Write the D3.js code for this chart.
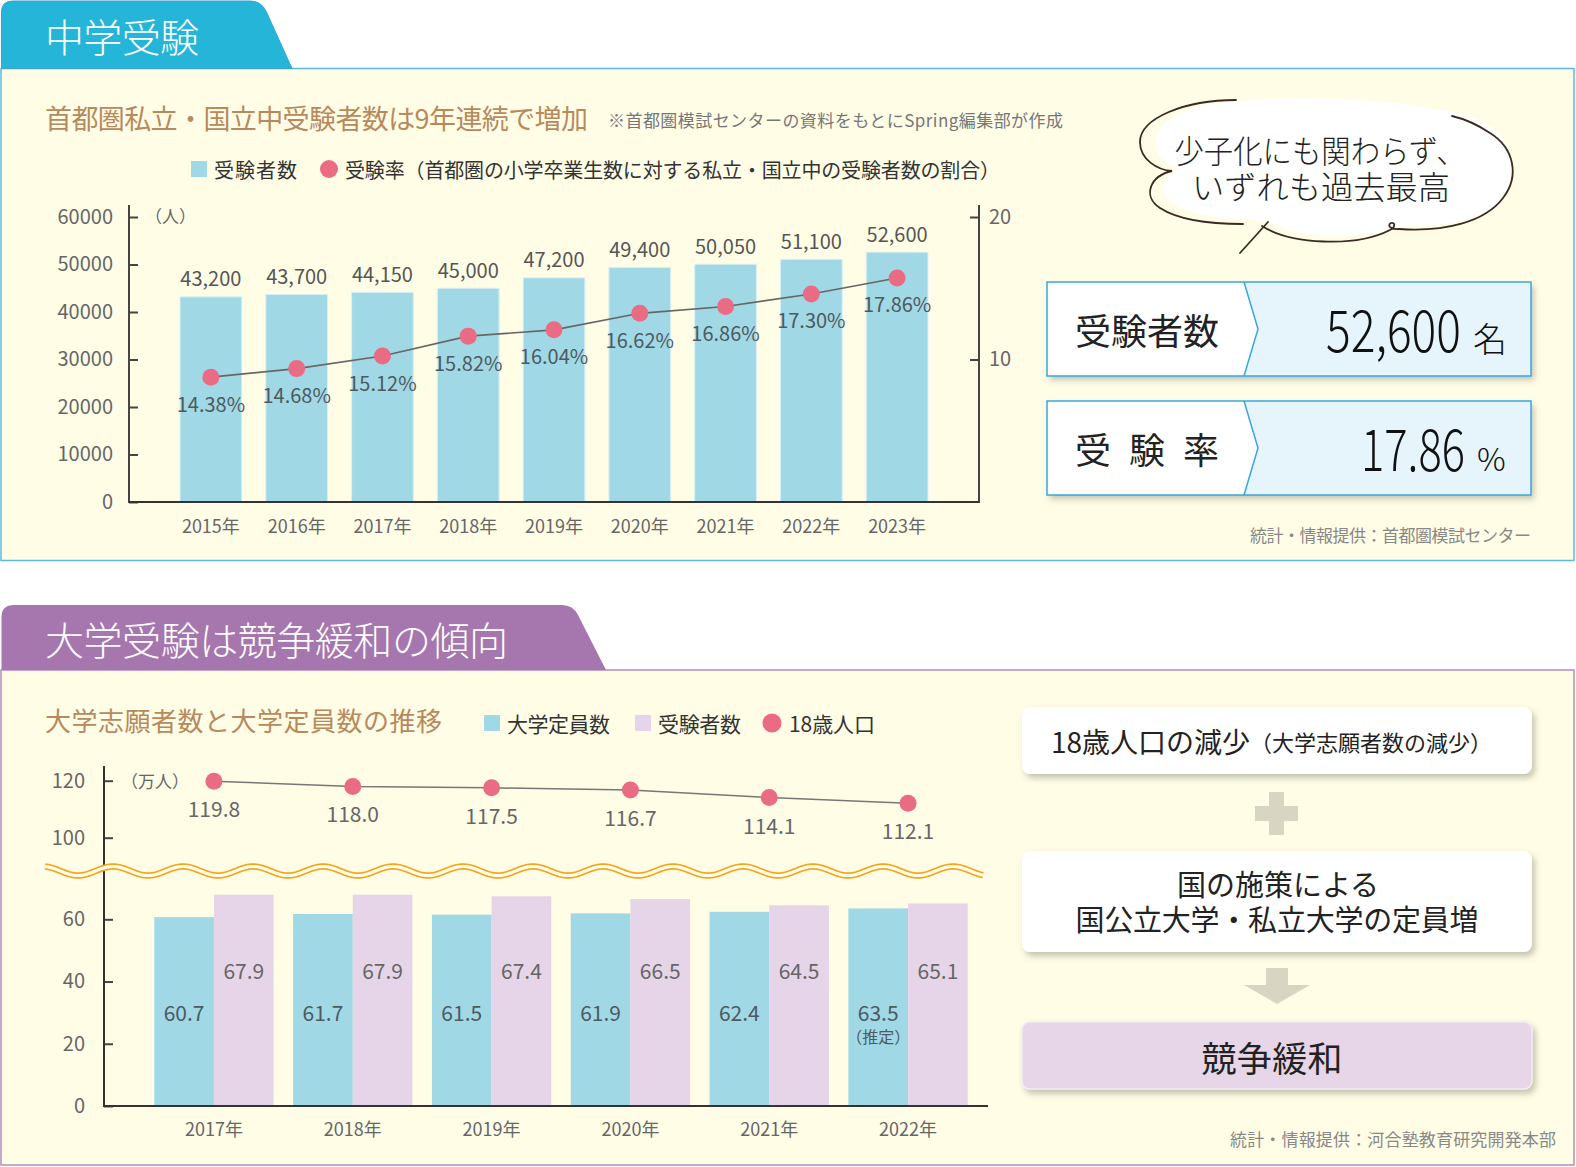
<!DOCTYPE html>
<html><head><meta charset="utf-8">
<script src="https://cdn.jsdelivr.net/npm/d3@7"></script>
<style>
html,body{margin:0;padding:0;background:#fff;}
svg{display:block;}
</style></head><body>
<svg id="c" width="1576" height="1167"></svg>
<script>
// ---------- data ----------
const jhYears = ["2015年","2016年","2017年","2018年","2019年","2020年","2021年","2022年","2023年"];
const jhApplicants = [43200,43700,44150,45000,47200,49400,50050,51100,52600];
const jhRates = [14.38,14.68,15.12,15.82,16.04,16.62,16.86,17.30,17.86];
const jhLeftTicks = [0,10000,20000,30000,40000,50000,60000];
const jhRightTicks = [10,20];

const uniYears = ["2017年","2018年","2019年","2020年","2021年","2022年"];
const uniCapacity = [60.7,61.7,61.5,61.9,62.4,63.5];
const uniApplicants = [67.9,67.9,67.4,66.5,64.5,65.1];
const pop18 = [119.8,118.0,117.5,116.7,114.1,112.1];
const uniLowTicks = [0,20,40,60];
const uniHighTicks = [100,120];

const FONT = "'Noto Sans CJK JP','Noto Sans',sans-serif";
const CREAM = "#fffde6";
const BLUE = "#a1d8e6";
const PINK = "#e6d5e8";
const DOT = "#ea6c84";
const TAN = "#b8895c";

const svg = d3.select("#c").attr("font-family", FONT);
const defs = svg.append("defs");
const flt = defs.append("filter").attr("id","sh").attr("x","-10%").attr("y","-20%").attr("width","125%").attr("height","160%");
flt.append("feDropShadow").attr("dx",3).attr("dy",4).attr("stdDeviation",3).attr("flood-color","#7d7a68").attr("flood-opacity",0.45);

function txt(g, x, y, s, o) {
  const t = g.append("text").attr("x", x).attr("y", y).text(s)
    .attr("font-size", o.size || 20).attr("fill", o.fill || "#333")
    .attr("dominant-baseline", o.base || "central")
    .attr("text-anchor", o.anchor || "start");
  if (o.weight) t.attr("font-weight", o.weight);
  if (o.len) t.attr("textLength", o.len).attr("lengthAdjust", o.adj || "spacing");
  return t;
}

svg.append("rect").attr("width",1576).attr("height",1167).attr("fill","#fff");

// ---------- panels & tabs ----------
svg.append("rect").attr("x",1).attr("y",68.5).attr("width",1573).attr("height",492)
  .attr("fill",CREAM).attr("stroke","#5cb9e5").attr("stroke-width",1.5);
svg.append("path").attr("d","M1.5,68.5 L1.5,12 Q1.5,1 13,1 L250,1 Q261,1 266,11 L292,68.5 Z")
  .attr("fill","#24b5d8").attr("stroke","#3aa2d8").attr("stroke-width",1);
txt(svg, 45, 35, "中学受験", {size:39, fill:"#fff", weight:300, len:154});

svg.append("rect").attr("x",1).attr("y",670).attr("width",1573).attr("height",495)
  .attr("fill",CREAM).attr("stroke","#b38cc0").attr("stroke-width",1.5);
svg.append("path").attr("d","M1.5,670 L1.5,617 Q1.5,605 14,605 L562,605 Q573,605 578,615 L606,670 Z")
  .attr("fill","#a676ae");
txt(svg, 45, 638, "大学受験は競争緩和の傾向", {size:39, fill:"#fff", weight:300, len:463});

// ---------- top chart ----------
const topG = svg.append("g");
txt(topG, 45, 117, "首都圏私立・国立中受験者数は9年連続で増加", {size:27, fill:TAN, len:543});
txt(topG, 608, 119, "※首都圏模試センターの資料をもとにSpring編集部が作成", {size:17, fill:"#777", len:455});
topG.append("rect").attr("x",191).attr("y",161).attr("width",16).attr("height",16).attr("fill",BLUE);
txt(topG, 214, 169, "受験者数", {size:20, fill:"#333", len:83});
topG.append("circle").attr("cx",329).attr("cy",169).attr("r",9).attr("fill",DOT);
txt(topG, 345, 169, "受験率（首都圏の小学卒業生数に対する私立・国立中の受験者数の割合）", {size:20, fill:"#333", len:655});

const xJ = d3.scaleBand().domain(jhYears).range([168,940]).paddingInner(0.28).paddingOuter(0.14);
const yJ = d3.scaleLinear().domain([0,60000]).range([502,217]);
const yJR = d3.scaleLinear().domain([0,20]).range([502,217]);
const yRate = d3.scaleLinear().domain([10,20]).range([502,217]);

function styleAxis(g){
  g.attr("font-family", FONT).attr("font-size", 20);
  g.select(".domain").remove();
  g.selectAll(".tick line").attr("stroke","#444").attr("stroke-width",2);
  g.selectAll(".tick text").attr("fill","#666");
}
topG.append("g").attr("transform","translate(129,0)")
  .call(d3.axisLeft(yJ).tickValues(jhLeftTicks).tickFormat(d3.format("d")).tickSizeInner(-9).tickSizeOuter(0).tickPadding(16))
  .call(styleAxis);
topG.append("g").attr("transform","translate(979,0)")
  .call(d3.axisRight(yJR).tickValues(jhRightTicks).tickSizeInner(-9).tickSizeOuter(0).tickPadding(10))
  .call(styleAxis);
topG.append("line").attr("x1",129).attr("x2",129).attr("y1",205).attr("y2",503).attr("stroke","#444").attr("stroke-width",2);
topG.append("line").attr("x1",979).attr("x2",979).attr("y1",205).attr("y2",503).attr("stroke","#444").attr("stroke-width",2);
txt(topG, 145, 215, "（人）", {size:17, fill:"#666"});

topG.selectAll("rect.bar").data(jhApplicants).join("rect").attr("class","bar")
  .attr("x",(d,i)=>xJ(jhYears[i])).attr("width",xJ.bandwidth())
  .attr("y",d=>yJ(d)).attr("height",d=>yJ(0)-yJ(d))
  .attr("fill",BLUE).attr("stroke","#d9f1f5").attr("stroke-width",1);
topG.append("line").attr("x1",129).attr("x2",979).attr("y1",502).attr("y2",502).attr("stroke","#333").attr("stroke-width",2);

const fmtN = d3.format(",");
jhApplicants.forEach((d,i)=>{
  txt(topG, xJ(jhYears[i])+xJ.bandwidth()/2, yJ(d)-19, fmtN(d), {size:20, fill:"#555", anchor:"middle"});
});
const cx = i => xJ(jhYears[i]) + xJ.bandwidth()/2;
topG.append("path").datum(jhRates)
  .attr("d", d3.line().x((d,i)=>cx(i)).y(d=>yRate(d)))
  .attr("fill","none").attr("stroke","#666").attr("stroke-width",1.6);
topG.selectAll("circle.dot").data(jhRates).join("circle").attr("class","dot")
  .attr("cx",(d,i)=>cx(i)).attr("cy",d=>yRate(d)).attr("r",8.5).attr("fill",DOT);
jhRates.forEach((d,i)=>{
  txt(topG, cx(i), yRate(d)+26, d3.format(".2f")(d)+"%", {size:20, fill:"#4d5a60", anchor:"middle"});
});
jhYears.forEach((d,i)=>{
  txt(topG, cx(i), 525, d, {size:18, fill:"#666", anchor:"middle"});
});

// ---------- speech bubble ----------
const bub = svg.append("g");
bub.append("path").attr("transform","translate(7,-3)")
  .attr("d","M1236,104 C1300,97 1420,104 1470,122 C1505,136 1512,170 1498,198 C1484,222 1440,230 1398,228 C1360,244 1290,242 1264,226 L1243,222 C1210,222 1178,216 1164,205 C1150,193 1156,178 1174,171 C1158,168 1146,158 1149,141 C1154,119 1192,105 1236,104 Z")
  .attr("fill","#fff");
const bs = {fill:"none", stroke:"#3a2a22", "stroke-width":1.8, "stroke-linecap":"round"};
[
 "M1236,100 C1185,100 1140,118 1140,142 C1140,160 1158,170 1172,171 C1150,176 1142,196 1160,208 C1180,221 1215,224 1243,224",
 "M1262,226 C1290,244 1355,248 1390,230 C1396,227 1395,222 1391,223 C1387,225 1390,230 1399,229",
 "M1399,229 C1445,232 1485,222 1503,198 C1520,176 1514,148 1490,133 C1478,125 1465,119 1452,116",
 "M1268,222 L1240,253"
].forEach(d=>{ const p = bub.append("path").attr("d",d); Object.entries(bs).forEach(([k,v])=>p.attr(k,v)); });
txt(bub, 1320, 149, "少子化にも関わらず、", {size:32, fill:"#222", weight:300, anchor:"middle", len:291, adj:"spacingAndGlyphs"});
txt(bub, 1321, 185, "いずれも過去最高", {size:32, fill:"#222", weight:300, anchor:"middle", len:258, adj:"spacingAndGlyphs"});

// ---------- stat boxes ----------
function statBox(y0, h, labelFn, num, numEnd, numLen, unit, unitSize){
  const g = svg.append("g");
  const x0 = 1047, x1 = 1531, cxv = 1244, tip = 1258;
  g.append("rect").attr("x",x0).attr("y",y0).attr("width",x1-x0).attr("height",h).attr("fill","#fff").attr("filter","url(#sh)");
  g.append("path").attr("d",`M${cxv},${y0} L${x1},${y0} L${x1},${y0+h} L${cxv},${y0+h} L${tip},${y0+h/2} Z`).attr("fill","#e6f4fc");
  g.append("path").attr("d",`M${cxv},${y0} L${tip},${y0+h/2} L${cxv},${y0+h}`).attr("fill","none").attr("stroke","#3aa6e0").attr("stroke-width",1.5);
  g.append("rect").attr("x",x0).attr("y",y0).attr("width",x1-x0).attr("height",h).attr("fill","none").attr("stroke","#3aa6e0").attr("stroke-width",1.5);
  labelFn(g, y0 + h/2);
  const base = y0 + h*0.745;
  txt(g, numEnd, base, num, {size:58, fill:"#111", weight:300, anchor:"end", base:"alphabetic", len:numLen, adj:"spacingAndGlyphs"});
  txt(g, numEnd + 12, base, unit, {size:unitSize, fill:"#111", weight:300, base:"alphabetic"});
}
statBox(282, 94, (g,cy)=>txt(g, 1075, cy, "受験者数", {size:36, fill:"#222", len:144}), "52,600", 1461, 135, "名", 34);
statBox(401, 94, (g,cy)=>{
  ["受","験","率"].forEach((c,i)=>txt(g, 1075 + i*54, cy, c, {size:36, fill:"#222"}));
}, "17.86", 1465, 104, "%", 32);
txt(svg, 1531, 534, "統計・情報提供：首都圏模試センター", {size:17, fill:"#888", anchor:"end", len:281});

// ---------- bottom chart ----------
const bot = svg.append("g");
txt(bot, 45, 719, "大学志願者数と大学定員数の推移", {size:26, fill:TAN, len:397});
bot.append("rect").attr("x",484).attr("y",715).attr("width",16).attr("height",16).attr("fill",BLUE);
txt(bot, 507, 723, "大学定員数", {size:21, fill:"#333", len:103});
bot.append("rect").attr("x",635).attr("y",715).attr("width",16).attr("height",16).attr("fill",PINK);
txt(bot, 658, 723, "受験者数", {size:21, fill:"#333", len:83});
bot.append("circle").attr("cx",772).attr("cy",723).attr("r",9.5).attr("fill",DOT);
txt(bot, 789, 723, "18歳人口", {size:21, fill:"#333", len:86});

const xU = d3.scaleBand().domain(uniYears).range([104,1018]).paddingInner(0.14).paddingOuter(0.362);
const xSub = d3.scaleBand().domain(["cap","app"]).range([0, xU.bandwidth()]);
const yLow = d3.scaleLinear().domain([0,60]).range([1106,919.3]);
const yHigh = d3.scaleLinear().domain([100,120]).range([837.7,780.7]);

bot.append("g").attr("transform","translate(104,0)")
  .call(d3.axisLeft(yLow).tickValues(uniLowTicks).tickSizeInner(-9).tickSizeOuter(0).tickPadding(19))
  .call(styleAxis);
bot.append("g").attr("transform","translate(104,0)")
  .call(d3.axisLeft(yHigh).tickValues(uniHighTicks).tickSizeInner(-9).tickSizeOuter(0).tickPadding(19))
  .call(styleAxis);
bot.append("line").attr("x1",104).attr("x2",104).attr("y1",766).attr("y2",1107).attr("stroke","#333").attr("stroke-width",2);
txt(bot, 121, 780, "（万人）", {size:17, fill:"#666"});

bot.selectAll("rect.cap").data(uniCapacity).join("rect").attr("class","cap")
  .attr("x",(d,i)=>xU(uniYears[i])+xSub("cap")).attr("width",xSub.bandwidth())
  .attr("y",d=>yLow(d)).attr("height",d=>yLow(0)-yLow(d)).attr("fill",BLUE);
bot.selectAll("rect.app").data(uniApplicants).join("rect").attr("class","app")
  .attr("x",(d,i)=>xU(uniYears[i])+xSub("app")).attr("width",xSub.bandwidth())
  .attr("y",d=>yLow(d)).attr("height",d=>yLow(0)-yLow(d)).attr("fill",PINK);
bot.append("line").attr("x1",104).attr("x2",988).attr("y1",1106).attr("y2",1106).attr("stroke","#333").attr("stroke-width",2);

const f1 = d3.format(".1f");
uniCapacity.forEach((d,i)=>{
  txt(bot, xU(uniYears[i])+xSub("cap")+xSub.bandwidth()/2, 1012, f1(d), {size:21, fill:"#4d5a60", anchor:"middle"});
});
txt(bot, xU(uniYears[5])+xSub("cap")+xSub.bandwidth()/2, 1036, "（推定）", {size:16, fill:"#4d5a60", anchor:"middle"});
uniApplicants.forEach((d,i)=>{
  txt(bot, xU(uniYears[i])+xSub("app")+xSub.bandwidth()/2, 970, f1(d), {size:21, fill:"#666", anchor:"middle"});
});
uniYears.forEach((d,i)=>{
  txt(bot, xU(d)+xU.bandwidth()/2, 1128, d, {size:18, fill:"#666", anchor:"middle"});
});

const ux = i => xU(uniYears[i]) + xU.bandwidth()/2;
bot.append("path").datum(pop18)
  .attr("d", d3.line().x((d,i)=>ux(i)).y(d=>yHigh(d)))
  .attr("fill","none").attr("stroke","#777").attr("stroke-width",1.5);
bot.selectAll("circle.pd").data(pop18).join("circle").attr("class","pd")
  .attr("cx",(d,i)=>ux(i)).attr("cy",d=>yHigh(d)).attr("r",8.5).attr("fill",DOT);
pop18.forEach((d,i)=>{
  txt(bot, ux(i), yHigh(d)+27, f1(d), {size:21, fill:"#666", anchor:"middle"});
});

// axis break wave (decoration)
const wavePts = d3.range(45, 984, 1).map(x => [x, 871 - 4.5*Math.cos(2*Math.PI*(x-113)/70)]);
const wl = d3.line();
bot.append("path").attr("d", wl(wavePts)).attr("fill","none").attr("stroke","#f5a41c").attr("stroke-width",6.5);
bot.append("path").attr("d", wl(wavePts)).attr("fill","none").attr("stroke",CREAM).attr("stroke-width",3.2);

// ---------- flow boxes ----------
const fl = svg.append("g");
fl.append("rect").attr("x",1022).attr("y",707).attr("width",510).attr("height",67).attr("rx",8).attr("fill","#fff").attr("filter","url(#sh)");
const t1 = fl.append("text").attr("x",1051).attr("y",741).attr("dominant-baseline","central").attr("fill","#222");
t1.append("tspan").attr("font-size",28).text("18歳人口の減少");
t1.append("tspan").attr("font-size",22).text("（大学志願者数の減少）");

fl.append("path").attr("d","M1269,792 h15 v14 h14 v15 h-14 v14 h-15 v-14 h-14 v-15 h14 Z").attr("fill","#d8d5c3");

fl.append("rect").attr("x",1022).attr("y",851).attr("width",510).attr("height",101).attr("rx",8).attr("fill","#fff").attr("filter","url(#sh)");
txt(fl, 1278, 883, "国の施策による", {size:29, fill:"#222", anchor:"middle", len:202});
txt(fl, 1277, 918, "国公立大学・私立大学の定員増", {size:29, fill:"#222", anchor:"middle", len:403});

fl.append("path").attr("d","M1266,968 h22 v17 h22 l-33,19 l-33,-19 h22 Z").attr("fill","#d8d5c3");

fl.append("rect").attr("x",1022).attr("y",1022).attr("width",510).attr("height",67).attr("rx",8).attr("fill","#e6d6e8").attr("stroke","#f4ecf5").attr("stroke-width",1.5).attr("filter","url(#sh)");
txt(fl, 1272, 1056, "競争緩和", {size:35, fill:"#222", anchor:"middle", len:141});

txt(svg, 1556, 1138, "統計・情報提供：河合塾教育研究開発本部", {size:17, fill:"#888", anchor:"end", len:326});
</script>
</body></html>
